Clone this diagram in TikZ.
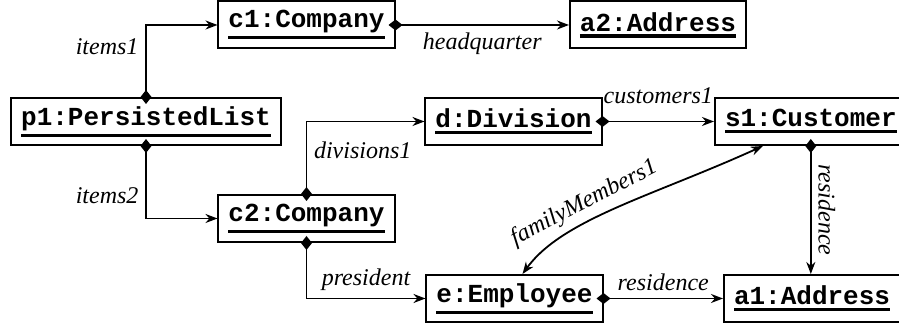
\documentclass[tikz,border=0pt]{standalone}
\usepackage{fontspec}
\setmainfont{Liberation Serif}
\setmonofont{Liberation Mono}
\usetikzlibrary{arrows.meta}

\newlength\objw
\newcommand\objname[1]{\settowidth\objw{#1}\vtop{\hbox{#1}\kern1.5pt\hrule height1.6pt width\objw}}

\tikzset{
    obj/.style={draw, line width=1pt, font=\fontsize{13}{15}\selectfont\ttfamily\bfseries, minimum height=23.5pt, inner xsep=5pt},
    link/.style={line width=0.9pt, shorten <=-3.5pt, arrows={{Diamond[length=7pt,width=5.5pt]}-{Stealth[length=6pt,width=4.5pt]}}},
    role/.style={font=\fontsize{12}{14}\selectfont\itshape}
}

\begin{document}
\begin{tikzpicture}[x=0.5pt,y=-0.5pt]
        \useasboundingbox (0,0) rectangle (899,324);

        %Objects
        \node[obj] (c1) at (306.5,25) {\objname{c1:Company}};
        \node[obj] (a2) at (658,25) {\objname{a2:Address}};
        \node[obj] (p1) at (146,121.5) {\objname{p1:PersistedList}};
        \node[obj] (d) at (513.5,121.5) {\objname{d:Division}};
        \node[obj, anchor=west] (s1) at (714,121.5) {\objname{s1:Customer}};
        \node[obj] (c2) at (306.5,218.5) {\objname{c2:Company}};
        \node[obj] (e) at (514.5,298.5) {\objname{e:Employee}};
        \node[obj, anchor=west] (a1) at (723,298.5) {\objname{a1:Address}};

        %Links
        \draw[link] (p1.north) |- (c1.west) node[role, pos=0.35, left] {items1};
        \draw[link] (p1.south) |- (c2.west) node[role, pos=0.34, left] {items2};
        \draw[link] (c1.east) -- (a2.west) node[role, midway, below] {headquarter};
        \draw[link] (c2.north) |- (d.west) node[role, pos=0.3, right] {divisions1};
        \draw[link] (d.east) -- (s1.west) node[role, midway, above=5pt] {customers1};
        \draw[link] (s1.south) -- (s1.south |- a1.north) node[role, midway, anchor=south, rotate=-90] {residence};
        \draw[link] (c2.south) |- (e.west) node[role, pos=0.75, above] {president};
        \draw[link] (e.east) -- (a1.west) node[role, midway, above] {residence};

        %Family
        \draw[line width=0.9pt, {Stealth[length=6pt,width=4.5pt]}-{Stealth[length=6pt,width=4.5pt]}] ([xshift=4pt]e.north) .. controls +(40,-55) and +(-110,50) .. ([xshift=-24pt]s1.south) node[role, pos=0.4, sloped, above] {familyMembers1};
    \end{tikzpicture}
\end{document}
